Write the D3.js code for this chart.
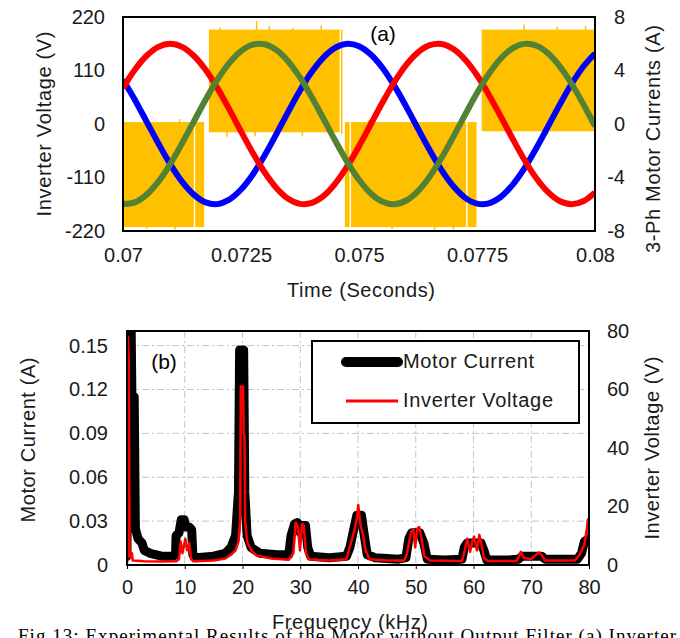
<!DOCTYPE html>
<html><head><meta charset="utf-8">
<script src="https://cdn.jsdelivr.net/npm/d3@7"></script>
<style>
body{margin:0;background:#fff;}
svg{display:block;font-family:"Liberation Sans",Arial,sans-serif;}
</style></head><body>
<svg id="c" width="680" height="638"></svg>
<script>
// ---------- (a) time-domain data ----------
const tTicks = [0.07, 0.0725, 0.075, 0.0775, 0.08];
const tTickLabels = ["0.07", "0.0725", "0.075", "0.0775", "0.08"];
const vTicks = [-220, -110, 0, 110, 220];
const iTicks = [-8, -4, 0, 4, 8];
const tSamples = [0.07,0.07025,0.0705,0.07075,0.071,0.07125,0.0715,0.07175,0.072,0.07225,
  0.0725,0.07275,0.073,0.07325,0.0735,0.07375,0.074,0.07425,0.0745,0.07475,
  0.075,0.07525,0.0755,0.07575,0.076,0.07625,0.0765,0.07675,0.077,0.07725,
  0.0775,0.07775,0.078,0.07825,0.0785,0.07875,0.079,0.07925,0.0795,0.07975,0.08];
const iRed = [2.68,4.05,5.10,5.77,6.00,5.77,5.10,4.05,2.68,1.11,
  -0.55,-2.16,-3.61,-4.78,-5.59,-5.97,-5.90,-5.38,-4.44,-3.17,
  -1.66,-0.02,1.62,3.14,4.42,5.36,5.89,5.98,5.60,4.80,
  3.64,2.19,0.58,-1.07,-2.65,-4.02,-5.08,-5.76,-6.00,-5.78,-5.12];
const iGreen = [-5.99,-5.86,-5.28,-4.31,-3.00,-1.46,0.18,1.82,3.31,4.55,
  5.45,5.93,5.96,5.53,4.68,3.48,2.00,0.38,-1.27,-2.83,
  -4.17,-5.19,-5.81,-6.00,-5.72,-5.01,-3.92,-2.53,-0.94,0.71,
  2.32,3.74,4.88,5.65,5.99,5.87,5.30,4.33,3.03,1.50,-0.15];
const iBlue = [3.31,1.82,0.18,-1.46,-3.00,-4.31,-5.28,-5.86,-5.99,-5.66,
  -4.90,-3.77,-2.35,-0.75,0.91,2.50,3.90,4.99,5.71,6.00,
  5.82,5.20,4.19,2.85,1.30,-0.35,-1.97,-3.45,-4.66,-5.52,
  -5.95,-5.93,-5.46,-4.57,-3.34,-1.85,-0.22,1.43,2.97,4.28,5.27];
// inverter PWM voltage envelope blocks: [tStart, tEnd, vLow, vHigh]
const voltBlocks = [
  [0.07000, 0.07150, -212, 4],
  [0.07153, 0.07172, -212, 4],
  [0.07182, 0.07459, -17, 194],
  [0.07462, 0.07465, -20, 194],
  [0.07470, 0.07480, -212, 4],
  [0.07483, 0.07727, -212, 4],
  [0.07730, 0.07749, -212, 4],
  [0.07760, 0.08000, -15, 194]
];
// switching spikes: [t, vFrom, vTo]
const voltSpikes = [
  [0.07283, 190, 212], [0.07205, 190, 199], [0.07310, 190, 201], [0.07420, 190, 203],
  [0.07850, 190, 204], [0.07920, 190, 200], [0.07980, 190, 202], [0.07360, 190, 198],
  [0.07660, -226, -205], [0.07050, -216, -205], [0.07110, -217, -206], [0.07570, -216, -205],
  [0.07700, -217, -205], [0.07120, 0, 10], [0.07520, 0, 8], [0.07620, 0, 9],
  [0.07220, -26, -10], [0.07380, -24, -10], [0.07900, -22, -10], [0.07280, -25, -10]
];

// ---------- (b) spectrum data ----------
const fTicks = [0, 10, 20, 30, 40, 50, 60, 70, 80];
const aTicks = [0, 0.03, 0.06, 0.09, 0.12, 0.15];
const vsTicks = [0, 20, 40, 60, 80];
const freqI = [0,0.15,0.7,0.85,1.25,1.45,1.9,2.6,3,4,6,8,8.4,8.5,9,9.4,9.9,10.2,10.8,11.2,11.4,12,15,17,18,18.8,19.3,19.5,20.2,20.4,20.8,21.5,23,26,28,28.4,29,29.5,30,30.4,30.9,31.3,31.8,35,38,38.6,39.3,39.8,40.6,41.1,41.6,43,47,48.3,48.8,49.3,50.7,51.4,52,55,58,58.4,58.9,61.3,61.8,62.3,66,67.8,68.4,71.8,72.4,78,78.7,79.2,80];
const curI = [0.006,0.17,0.17,0.115,0.115,0.025,0.018,0.015,0.010,0.008,0.006,0.006,0.007,0.020,0.022,0.031,0.031,0.026,0.026,0.024,0.007,0.005,0.006,0.008,0.012,0.020,0.050,0.147,0.147,0.050,0.020,0.012,0.008,0.007,0.007,0.020,0.028,0.029,0.022,0.027,0.027,0.012,0.006,0.005,0.006,0.012,0.025,0.034,0.034,0.020,0.007,0.005,0.004,0.005,0.018,0.022,0.022,0.015,0.004,0.0035,0.004,0.012,0.015,0.015,0.010,0.0035,0.0035,0.004,0.006,0.006,0.004,0.004,0.008,0.016,0.018];
const freqV = [0,0.05,0.15,0.3,0.45,0.7,0.85,1,3,6,8.5,9,9.3,9.6,10.1,10.4,10.8,11.1,11.5,15,17,18,18.8,19.3,19.6,19.7,20.1,20.2,20.35,20.45,20.8,21.5,22.5,25,28,28.8,29.2,29.6,29.95,30.3,30.6,31,31.5,35,38,38.7,39.4,39.8,40.05,40.4,40.9,41.3,42,45,48,48.5,49.2,49.6,49.9,50.3,50.6,51,51.5,52.5,58,58.5,58.9,59.4,59.8,60.1,60.6,61,61.4,61.8,62.5,67.5,68.2,68.7,70,71.3,71.8,72.4,77.5,78.4,79.2,79.6,79.8,80];
const voltV = [0.5,2,78,70,3,2.5,4,1.5,1.3,1.2,1.3,2,8,4,9,5,7.5,2,1.3,1.5,2.2,3.5,5,8,15,61,61,45,44,15,8,5,3.2,2.2,1.8,4,14.5,13,5,14,13.5,4,2,1.5,2,7,12,16,20.5,14,10,5,2,1.5,1.5,4,11.5,12,6,12.5,13,9,3,1.5,1.4,5,9,4.5,8,9.7,5,10.3,7,2.5,1.4,1.4,4.5,2.5,2,4.3,3.5,1.5,1.5,3.5,7,12,15.5,9];

const svg = d3.select("#c");
const TXT = "#1a1a1a";
const plain = d => String(d);

function styleAxis(g, size) {
  g.attr("font-size", size).attr("font-family", null);
  g.select(".domain").remove();
  g.selectAll("text").attr("fill", TXT);
}

// ================= (a) =================
const ax = {l:123, r:595, t:17, b:231};
const x1 = d3.scaleLinear().domain([0.07, 0.08]).range([ax.l, ax.r]);
const yV = d3.scaleLinear().domain([-220, 220]).range([ax.b, ax.t]);
const yI = d3.scaleLinear().domain([-8, 8]).range([ax.b, ax.t]);

svg.append("clipPath").attr("id","clipA").append("rect")
  .attr("x", ax.l).attr("y", ax.t).attr("width", ax.r-ax.l).attr("height", ax.b-ax.t);
const gA = svg.append("g").attr("clip-path","url(#clipA)");
gA.selectAll("rect.vb").data(voltBlocks).join("rect").attr("class","vb")
  .attr("x", d => x1(d[0])).attr("width", d => x1(d[1]) - x1(d[0]))
  .attr("y", d => yV(d[3])).attr("height", d => yV(d[2]) - yV(d[3]))
  .attr("fill", "#FFC000");
gA.selectAll("line.vs").data(voltSpikes).join("line").attr("class","vs")
  .attr("x1", d => x1(d[0])).attr("x2", d => x1(d[0]))
  .attr("y1", d => yV(d[1])).attr("y2", d => yV(d[2]))
  .attr("stroke", "#FFC000").attr("stroke-width", 1.5);

const lineI = d3.line().x((d,i) => x1(tSamples[i])).y(d => yI(d)).curve(d3.curveCatmullRom);
[[iBlue,"#0000FF"],[iRed,"#FF0000"],[iGreen,"#548235"]].forEach(([s,c]) => {
  gA.append("path").datum(s).attr("d", lineI).attr("fill","none")
    .attr("stroke", c).attr("stroke-width", 6).attr("stroke-linejoin","round");
});
svg.append("rect").attr("x", ax.l).attr("y", ax.t).attr("width", ax.r-ax.l).attr("height", ax.b-ax.t)
  .attr("fill","none").attr("stroke","#000").attr("stroke-width",2);

const aL = svg.append("g").attr("transform",`translate(${ax.l},0)`)
  .call(d3.axisLeft(yV).tickValues(vTicks).tickFormat(plain).tickSize(0).tickPadding(18));
styleAxis(aL, 20);
const aR = svg.append("g").attr("transform",`translate(${ax.r},0)`)
  .call(d3.axisRight(yI).tickValues(iTicks).tickFormat(plain).tickSize(0).tickPadding(30));
styleAxis(aR, 20);
aR.selectAll("text").attr("text-anchor","end");
const aB = svg.append("g").attr("transform",`translate(0,${ax.b})`)
  .call(d3.axisBottom(x1).tickValues(tTicks).tickFormat((d,i) => tTickLabels[i]).tickSize(0).tickPadding(17));
styleAxis(aB, 20);

svg.append("text").attr("transform","translate(51,124) rotate(-90)").attr("text-anchor","middle")
  .attr("font-size",20).attr("fill",TXT).attr("textLength",185).attr("lengthAdjust","spacing")
  .text("Inverter Voltage (V)");
svg.append("text").attr("transform","translate(660,139) rotate(-90)").attr("text-anchor","middle")
  .attr("font-size",20).attr("fill",TXT).attr("textLength",228).attr("lengthAdjust","spacing")
  .text("3-Ph Motor Currents (A)");
svg.append("text").attr("x",361).attr("y",297).attr("text-anchor","middle")
  .attr("font-size",20).attr("fill",TXT).attr("textLength",148).attr("lengthAdjust","spacing")
  .text("Time (Seconds)");
svg.append("text").attr("x",383).attr("y",41).attr("text-anchor","middle")
  .attr("font-size",21).attr("fill","#000").text("(a)");

// ================= (b) =================
const bx = {l:127, r:589, t:331, b:565};
const x2 = d3.scaleLinear().domain([0, 80]).range([bx.l, bx.r]);
const yA = d3.scaleLinear().domain([0, 0.16]).range([bx.b, bx.t]);
const yS = d3.scaleLinear().domain([0, 80]).range([bx.b, bx.t]);

const grid = svg.append("g").attr("stroke","#c4c4c4").attr("stroke-width",1).attr("stroke-dasharray","7,3,2,3");
grid.selectAll("line.gx").data(fTicks.filter(d => d > 0 && d < 80)).join("line")
  .attr("x1", d => x2(d)).attr("x2", d => x2(d)).attr("y1", bx.t).attr("y2", bx.b);
grid.selectAll("line.gy").data(aTicks.filter(d => d > 0)).join("line")
  .attr("x1", bx.l).attr("x2", bx.r).attr("y1", d => yA(d)).attr("y2", d => yA(d));

svg.append("clipPath").attr("id","clipB").append("rect")
  .attr("x", bx.l).attr("y", bx.t).attr("width", bx.r-bx.l).attr("height", bx.b-bx.t);
const gB = svg.append("g").attr("clip-path","url(#clipB)");
gB.append("path").datum(curI)
  .attr("d", d3.line().x((d,i) => x2(freqI[i])).y(d => yA(d)))
  .attr("fill","none").attr("stroke","#000").attr("stroke-width",9)
  .attr("stroke-linejoin","round").attr("stroke-linecap","round");
gB.append("path").datum(voltV)
  .attr("d", d3.line().x((d,i) => x2(freqV[i])).y(d => yS(d)))
  .attr("fill","none").attr("stroke","#FF0000").attr("stroke-width",2.5)
  .attr("stroke-linejoin","round");

svg.append("rect").attr("x", bx.l).attr("y", bx.t).attr("width", bx.r-bx.l).attr("height", bx.b-bx.t)
  .attr("fill","none").attr("stroke","#000").attr("stroke-width",2);

const bL = svg.append("g").attr("transform",`translate(${bx.l},0)`)
  .call(d3.axisLeft(yA).tickValues(aTicks).tickFormat(d => d === 0 ? "0" : d3.format(".2f")(d)).tickSize(0).tickPadding(19));
styleAxis(bL, 20);
const bR = svg.append("g").attr("transform",`translate(${bx.r},0)`)
  .call(d3.axisRight(yS).tickValues(vsTicks).tickFormat(plain).tickSize(0).tickPadding(18));
styleAxis(bR, 20);
const bB = svg.append("g").attr("transform",`translate(0,${bx.b})`)
  .call(d3.axisBottom(x2).tickValues(fTicks).tickFormat(plain).tickSize(4).tickPadding(11));
styleAxis(bB, 20);
bB.selectAll("line").attr("stroke","#000");

// legend
const lg = svg.append("g");
lg.append("rect").attr("x",312).attr("y",341).attr("width",267).attr("height",82)
  .attr("fill","#fff").attr("stroke","#000").attr("stroke-width",2);
lg.append("line").attr("x1",346).attr("x2",398).attr("y1",362).attr("y2",362)
  .attr("stroke","#000").attr("stroke-width",10).attr("stroke-linecap","round");
lg.append("line").attr("x1",346).attr("x2",398).attr("y1",401).attr("y2",401)
  .attr("stroke","#FF0000").attr("stroke-width",3);
lg.append("text").attr("x",403).attr("y",368).attr("font-size",20).attr("fill",TXT)
  .attr("textLength",131).attr("lengthAdjust","spacing").text("Motor Current");
lg.append("text").attr("x",403).attr("y",407).attr("font-size",20).attr("fill",TXT)
  .attr("textLength",150).attr("lengthAdjust","spacing").text("Inverter Voltage");

svg.append("text").attr("x",164).attr("y",369).attr("text-anchor","middle")
  .attr("font-size",21).attr("fill","#000").text("(b)");

svg.append("text").attr("transform","translate(35,440) rotate(-90)").attr("text-anchor","middle")
  .attr("font-size",20).attr("fill",TXT).attr("textLength",165).attr("lengthAdjust","spacing")
  .text("Motor Current (A)");
svg.append("text").attr("transform","translate(659,448) rotate(-90)").attr("text-anchor","middle")
  .attr("font-size",20).attr("fill",TXT).attr("textLength",183).attr("lengthAdjust","spacing")
  .text("Inverter Voltage (V)");

// caption (cut off at bottom) then axis title over it
svg.append("text").attr("x",18).attr("y",642)
  .attr("font-family","'Liberation Serif','Times New Roman',serif").attr("font-size",19).attr("fill","#000")
  .attr("textLength",658).attr("lengthAdjust","spacing")
  .text("Fig 13: Experimental Results of the Motor without Output Filter (a) Inverter");
svg.append("text").attr("x",350).attr("y",629).attr("text-anchor","middle")
  .attr("font-size",20).attr("fill",TXT).attr("textLength",156).attr("lengthAdjust","spacing")
  .text("Frequency (kHz)");
</script></body></html>
